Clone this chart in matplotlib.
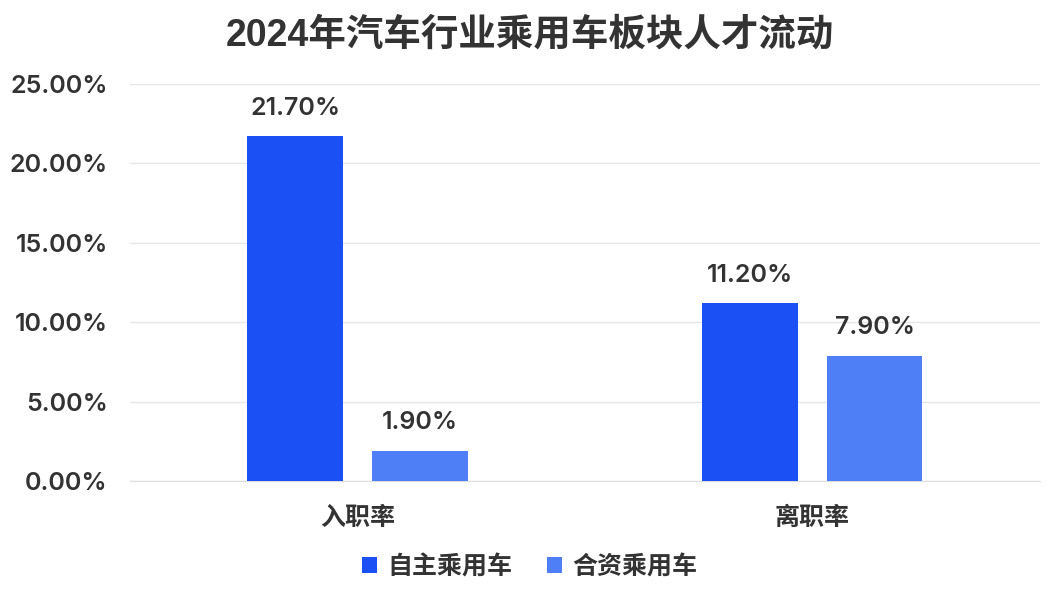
import numpy as np
import matplotlib
matplotlib.use("Agg")
import matplotlib.pyplot as plt

plt.rcParams['font.family'] = ['Inter', 'Noto Sans CJK SC']

categories = ['入职率', '离职率']
series_names = ['自主乘用车', '合资乘用车']
own_brand = [21.70, 11.20]
joint_venture = [1.90, 7.90]
yticks = [0, 5, 10, 15, 20, 25]

colors = ['#1a50f4', '#4f7ff6']
text_color = '#333333'
cjk = ['Noto Sans CJK SC', 'DejaVu Sans']

fig = plt.figure(figsize=(10.59, 5.92), dpi=100)

ax = fig.add_axes([0.1228, 0.1875, 0.859, 0.6705])

x = np.arange(len(categories))
w = 0.21
off = 0.137
b1 = ax.bar(x - off, own_brand, w, color=colors[0], label=series_names[0], zorder=3)
b2 = ax.bar(x + off, joint_venture, w, color=colors[1], label=series_names[1], zorder=3)

# 数値ラベル
for bars, vals in [(b1, own_brand), (b2, joint_venture)]:
    for b, v in zip(bars, vals):
        ax.text(b.get_x() + b.get_width() / 2, v + 1.05, f'{v:.2f}%',
                ha='center', va='bottom', fontsize=18, fontweight='semibold',
                color=text_color, zorder=4)

ax.set_xlim(-0.5, 1.5)
ax.set_ylim(0, 25)
ax.set_yticks(yticks)
ax.set_yticklabels([f'{t:.2f}%' for t in yticks], fontsize=18,
                   fontweight='semibold', color=text_color)
ax.set_xticks(x)
ax.set_xticklabels(categories, fontsize=18, color=text_color, family=cjk,
                   fontweight='bold')
ax.tick_params(length=0)
ax.tick_params(axis='y', pad=16)
ax.tick_params(axis='x', pad=18)
ax.grid(axis='y', color='#e6e6e6', linewidth=1, zorder=0)
for s in ['top', 'right', 'left']:
    ax.spines[s].set_visible(False)
ax.spines['bottom'].set_color('#dddddd')

fig.text(0.5, 0.94, '2024年汽车行业乘用车板块人才流动', ha='center', va='center',
         fontsize=27, fontweight='bold', color=text_color,
         family=['Liberation Sans', 'Noto Sans CJK SC'])

fig.legend(loc='center', bbox_to_anchor=(0.5, 0.042), ncol=2, frameon=False,
           prop={'family': cjk, 'size': 18, 'weight': 'bold'},
           handlelength=0.6, handleheight=0.6, handletextpad=0.4,
           columnspacing=1.4, labelcolor=text_color)

fig.savefig('out.png', dpi=100)
